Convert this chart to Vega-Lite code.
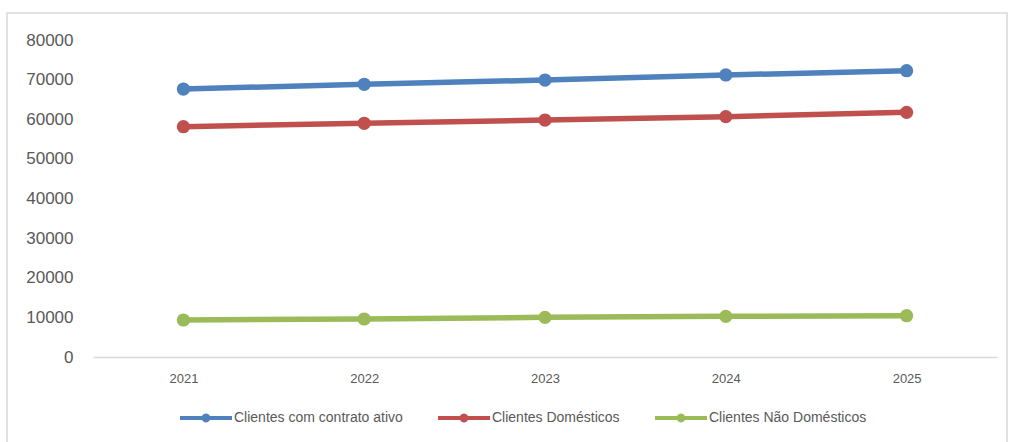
{
  "$schema": "https://vega.github.io/schema/vega-lite/v6.json",
  "autosize": {"type": "none"},
  "width": 1000,
  "height": 432,
  "padding": {"left": 7, "top": 13, "right": 2, "bottom": 0},
  "background": "white",
  "config": {
    "view": {"stroke": "#d9d9d9", "strokeWidth": 1.5},
    "font": "Liberation Sans"
  },
  "data": {
    "values": [
      {"ano": "2021", "serie": "Clientes com contrato ativo", "valor": 67630},
      {"ano": "2022", "serie": "Clientes com contrato ativo", "valor": 68820},
      {"ano": "2023", "serie": "Clientes com contrato ativo", "valor": 69900},
      {"ano": "2024", "serie": "Clientes com contrato ativo", "valor": 71170},
      {"ano": "2025", "serie": "Clientes com contrato ativo", "valor": 72250},
      {"ano": "2021", "serie": "Clientes Domésticos", "valor": 58120},
      {"ano": "2022", "serie": "Clientes Domésticos", "valor": 58980},
      {"ano": "2023", "serie": "Clientes Domésticos", "valor": 59800},
      {"ano": "2024", "serie": "Clientes Domésticos", "valor": 60650},
      {"ano": "2025", "serie": "Clientes Domésticos", "valor": 61750},
      {"ano": "2021", "serie": "Clientes Não Domésticos", "valor": 9340},
      {"ano": "2022", "serie": "Clientes Não Domésticos", "valor": 9590},
      {"ano": "2023", "serie": "Clientes Não Domésticos", "valor": 10010},
      {"ano": "2024", "serie": "Clientes Não Domésticos", "valor": 10270},
      {"ano": "2025", "serie": "Clientes Não Domésticos", "valor": 10420}
    ]
  },
  "encoding": {
    "x": {
      "field": "ano", "type": "ordinal",
      "scale": {"type": "point", "range": [86, 990], "padding": 0.5},
      "axis": {
        "title": null, "orient": "bottom", "offset": -88,
        "ticks": false, "labelAngle": 0, "labelPadding": 15,
        "labelFontSize": 13, "labelColor": "#595959",
        "domainColor": "#d9d9d9", "domainWidth": 1.5, "grid": false
      }
    },
    "y": {
      "field": "valor", "type": "quantitative",
      "scale": {"domain": [0, 80000], "range": [344, 27], "nice": false, "zero": true},
      "axis": {
        "title": null, "orient": "left", "offset": -66,
        "values": [0, 10000, 20000, 30000, 40000, 50000, 60000, 70000, 80000],
        "format": "d", "ticks": false, "domain": false, "grid": false,
        "labelPadding": 0, "labelFontSize": 17, "labelColor": "#595959"
      }
    },
    "color": {
      "field": "serie", "type": "nominal",
      "scale": {
        "domain": ["Clientes com contrato ativo", "Clientes Domésticos", "Clientes Não Domésticos"],
        "range": ["#4F81BD", "#C0504D", "#9BBB59"]
      },
      "legend": {
        "title": null, "orient": "none", "direction": "horizontal",
        "legendX": 173, "legendY": 379,
        "symbolType": "M-1,-0.08 L-0.15,-0.08 A0.17,0.17 0 0,1 0.15,-0.08 L1,-0.08 L1,0.08 L0.15,0.08 A0.17,0.17 0 0,1 -0.15,0.08 L-1,0.08 Z",
        "symbolSize": 2704, "symbolStrokeWidth": 0, "symbolOpacity": 1,
        "labelFontSize": 14, "labelColor": "#595959", "labelOffset": 2,
        "labelLimit": 400, "columnPadding": 35, "padding": 0
      }
    }
  },
  "layer": [
    {
      "mark": {"type": "line", "strokeWidth": 5.5},
      "encoding": {}
    },
    {
      "mark": {"type": "point", "filled": true, "size": 175, "opacity": 1},
      "encoding": {}
    }
  ]
}
